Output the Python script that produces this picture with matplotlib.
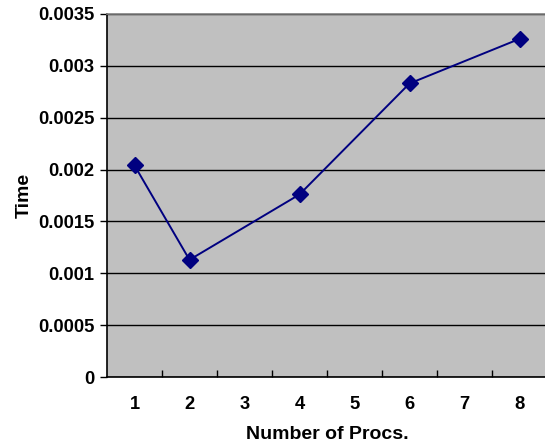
import matplotlib.pyplot as plt
from matplotlib.ticker import FixedLocator, NullFormatter

plt.rcParams['font.family'] = ['Liberation Sans', 'DejaVu Sans']
plt.rcParams['font.weight'] = 'bold'

categories = [1, 2, 3, 4, 5, 6, 7, 8]
procs = [1, 2, 4, 6, 8]
times = [0.00204, 0.00113, 0.00176, 0.00283, 0.00326]
yticks = [0, 0.0005, 0.001, 0.0015, 0.002, 0.0025, 0.003, 0.0035]
ytick_labels = ['0', '0.0005', '0.001', '0.0015', '0.002', '0.0025', '0.003', '0.0035']

W, H = 545, 445
fig = plt.figure(figsize=(W / 100, H / 100), dpi=100)
ax = fig.add_axes([107 / W, (H - 377) / H, 440 / W, 363 / H])
ax.set_facecolor('#c0c0c0')

ax.plot(procs, times, color='#000080', lw=1.4, marker='D', markersize=8.5,
        markerfacecolor='#000080', markeredgecolor='#000080', zorder=3)

ax.set_xlim(0.5, 8.5)
ax.set_ylim(0, 0.0035)

# gridlines
ax.set_yticks(yticks)
ax.set_yticklabels(ytick_labels, fontsize=13.2, fontweight='bold')
ax.yaxis.grid(True, color='black', lw=1)
ax.set_axisbelow(True)
ax.tick_params(axis='y', direction='out', length=5, width=1, pad=4)

# category axis: labels at centres, ticks between categories
ax.set_xticks(categories)
ax.set_xticklabels([str(c) for c in categories], fontsize=13.2, fontweight='bold')
ax.tick_params(axis='x', which='major', length=0, pad=14)
ax.xaxis.set_minor_locator(FixedLocator([c + 0.5 for c in categories[:-1]]))
ax.xaxis.set_minor_formatter(NullFormatter())
ax.tick_params(axis='x', which='minor', direction='in', length=5, width=1)

for s in ['left', 'bottom']:
    ax.spines[s].set_color('black')
    ax.spines[s].set_linewidth(1.2)
for s in ['top', 'right']:
    ax.spines[s].set_color('#808080')
    ax.spines[s].set_linewidth(1.2)

ax.set_xlabel('Number of Procs.', fontsize=14, fontweight='bold', labelpad=9)
ax.set_ylabel('Time', fontsize=14, fontweight='bold', labelpad=4)

fig.savefig('out.png', dpi=100)
